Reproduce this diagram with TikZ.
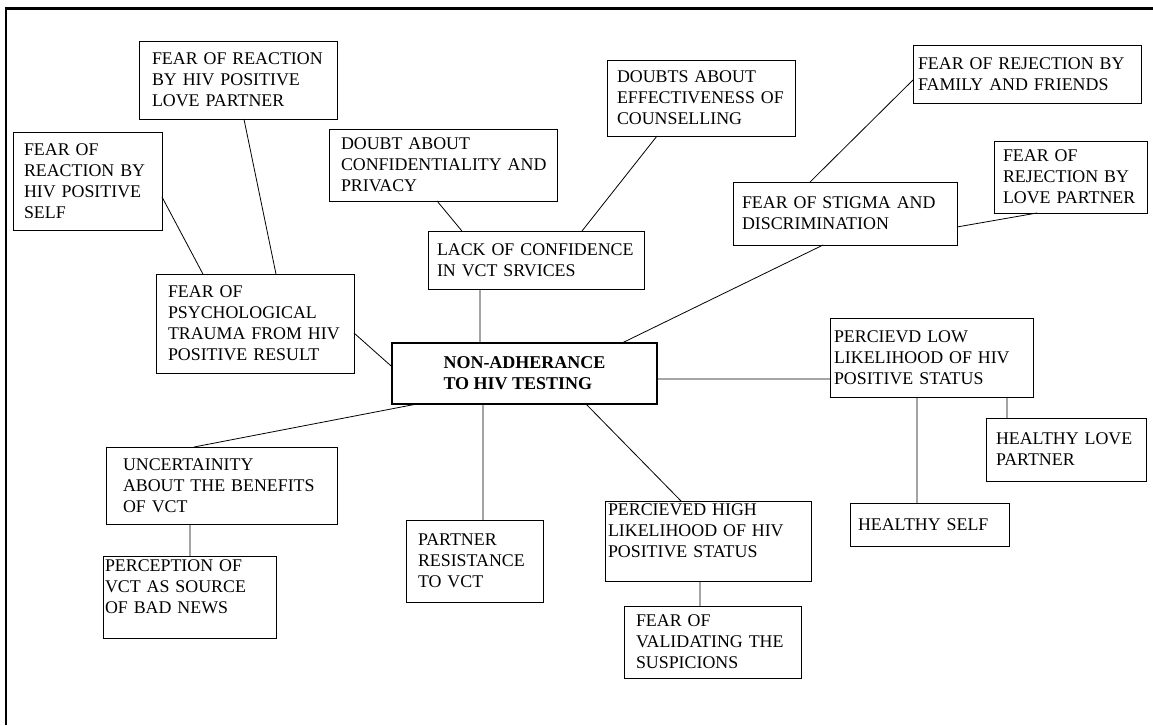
\documentclass[tikz,border=0pt]{standalone}
\usepackage{fontspec}
\setmainfont{Liberation Serif}
\usepackage{tikz}
\usetikzlibrary{calc,shadows}

\tikzset{
  cbox/.style n args={3}{draw, fill=white, line width=.7pt, outer sep=0pt,
    font=\fontsize{13.4pt}{15.75pt}\selectfont, align=left,
    minimum width=#1*.75pt, minimum height=#2*.75pt,
    inner xsep=#3*.75pt, inner ysep=1pt, text width=(#1-2*#3)*.75pt},
  mainbox/.style={draw, fill=white, line width=.8pt, outer sep=0pt,
    font=\fontsize{13.5pt}{15.75pt}\selectfont\bfseries, align=left,
    minimum width=265*.75pt, minimum height=61*.75pt},
  shadowed/.style={drop shadow={shadow xshift=.9pt, shadow yshift=-.9pt, opacity=1, fill=black}},
  link/.style={line width=.6pt}
}

\begin{document}
\begin{tikzpicture}[x=.75pt, y=-.75pt]
	\useasboundingbox (0,0) rectangle (1153,725);
	\draw[line width=2pt] (1153,8.7) -- (6,8.7) -- (6,725);

	% ~ keeps each printed line in one piece
	\node[cbox={149}{98}{11}] (selfpos) at (87.5,181) {FEAR~OF\\REACTION~BY\\HIV~POSITIVE\\SELF};
	\node[cbox={198}{78}{13}] (lovepos) at (238,80) {FEAR~OF~REACTION\\BY~HIV~POSITIVE\\LOVE~PARTNER};
	\node[cbox={228}{72}{12}] (privacy) at (443,165) {DOUBT~ABOUT\\CONFIDENTIALITY~AND\\PRIVACY};
	\node[cbox={188}{76}{10}] (counsel) at (701,98) {DOUBTS~ABOUT\\EFFECTIVENESS~OF\\COUNSELLING};
	\node[cbox={216}{58}{9}] (confid) at (536,260) {LACK~OF~CONFIDENCE\\IN~VCT~SRVICES};
	\node[cbox={228}{58}{5}] (family) at (1027,74) {FEAR~OF~REJECTION~BY\\FAMILY~AND~FRIENDS};
	\node[cbox={153}{72}{9}] (loverej) at (1070.5,177) {FEAR~OF\\REJECTION~BY\\LOVE~PARTNER};
	\node[cbox={224}{63}{9}] (stigma) at (845,213.5) {FEAR~OF~STIGMA~AND\\DISCRIMINATION};
	\node[cbox={198}{99}{12}] (trauma) at (255,323.5) {FEAR~OF\\PSYCHOLOGICAL\\TRAUMA~FROM~HIV\\POSITIVE~RESULT};
	\node[mainbox] (main) at (524.5,373.5) {NON-ADHERANCE\\TO HIV TESTING};
	\node[cbox={203}{79}{4}, shadowed] (low) at (931.5,357.5) {PERCIEVD~LOW\\LIKELIHOOD~OF~HIV\\POSITIVE~STATUS};
	\node[cbox={160}{63}{10}] (hlove) at (1066,449.5) {HEALTHY~LOVE\\PARTNER};
	\node[cbox={159}{43}{8}] (hself) at (929.5,524.5) {HEALTHY~SELF};
	\node[cbox={231}{77}{17}] (benefit) at (221.5,485.5) {UNCERTAINITY\\ABOUT~THE~BENEFITS\\OF~VCT};
	\node[cbox={173}{82}{2}] (badnews) at (189.5,597) {PERCEPTION~OF\\VCT~AS~SOURCE\\OF~BAD~NEWS\\\mbox{}};
	\node[cbox={137}{82}{12}] (partner) at (474.5,561) {PARTNER\\RESISTANCE\\TO~VCT};
	\node[cbox={206}{80}{3}, shadowed] (high) at (708,541) {PERCIEVED~HIGH\\LIKELIHOOD~OF~HIV\\POSITIVE~STATUS\\\mbox{}};
	\node[cbox={177}{72}{12}] (valid) at (712.5,642) {FEAR~OF\\VALIDATING~THE\\SUSPICIONS};

	\draw[link] ($(selfpos.north east)!.663!(selfpos.south east)$) -- ($(trauma.north west)!.237!(trauma.north east)$);
	\draw[link] ($(lovepos.south west)!.53!(lovepos.south east)$) -- ($(trauma.north west)!.606!(trauma.north east)$);
	\draw[link] ($(trauma.north east)!.596!(trauma.south east)$) -- ($(main.north west)!.39!(main.south west)$);
	\draw[link] ($(privacy.south west)!.474!(privacy.south east)$) -- ($(confid.north west)!.157!(confid.north east)$);
	\draw[link] ($(counsel.south west)!.266!(counsel.south east)$) -- ($(confid.north west)!.713!(confid.north east)$);
	\draw[link] ($(confid.south west)!.241!(confid.south east)$) -- ($(main.north west)!.332!(main.north east)$);
	\draw[link] ($(family.north west)!.603!(family.south west)$) -- ($(stigma.north west)!.344!(stigma.north east)$);
	\draw[link] ($(stigma.north east)!.714!(stigma.south east)$) -- ($(loverej.south west)!.281!(loverej.south east)$);
	\draw[link] ($(stigma.south west)!.402!(stigma.south east)$) -- ($(main.north west)!.868!(main.north east)$);
	\draw[link] ($(main.north east)!.59!(main.south east)$) -- ($(low.north west)!.772!(low.south west)$);
	\draw[link] ($(low.south west)!.429!(low.south east)$) -- ($(hself.north west)!.421!(hself.north east)$);
	\draw[link] ($(low.south west)!.872!(low.south east)$) -- ($(hlove.north west)!.131!(hlove.north east)$);
	\draw[link] ($(main.south west)!.094!(main.south east)$) -- ($(benefit.north west)!.381!(benefit.north east)$);
	\draw[link] ($(benefit.south west)!.364!(benefit.south east)$) -- ($(badnews.north west)!.503!(badnews.north east)$);
	\draw[link] ($(main.south west)!.343!(main.south east)$) -- ($(partner.north west)!.562!(partner.north east)$);
	\draw[link] ($(main.south west)!.732!(main.south east)$) -- ($(high.north west)!.369!(high.north east)$);
	\draw[link] ($(high.south west)!.461!(high.south east)$) -- ($(valid.north west)!.429!(valid.north east)$);
\end{tikzpicture}
\end{document}
